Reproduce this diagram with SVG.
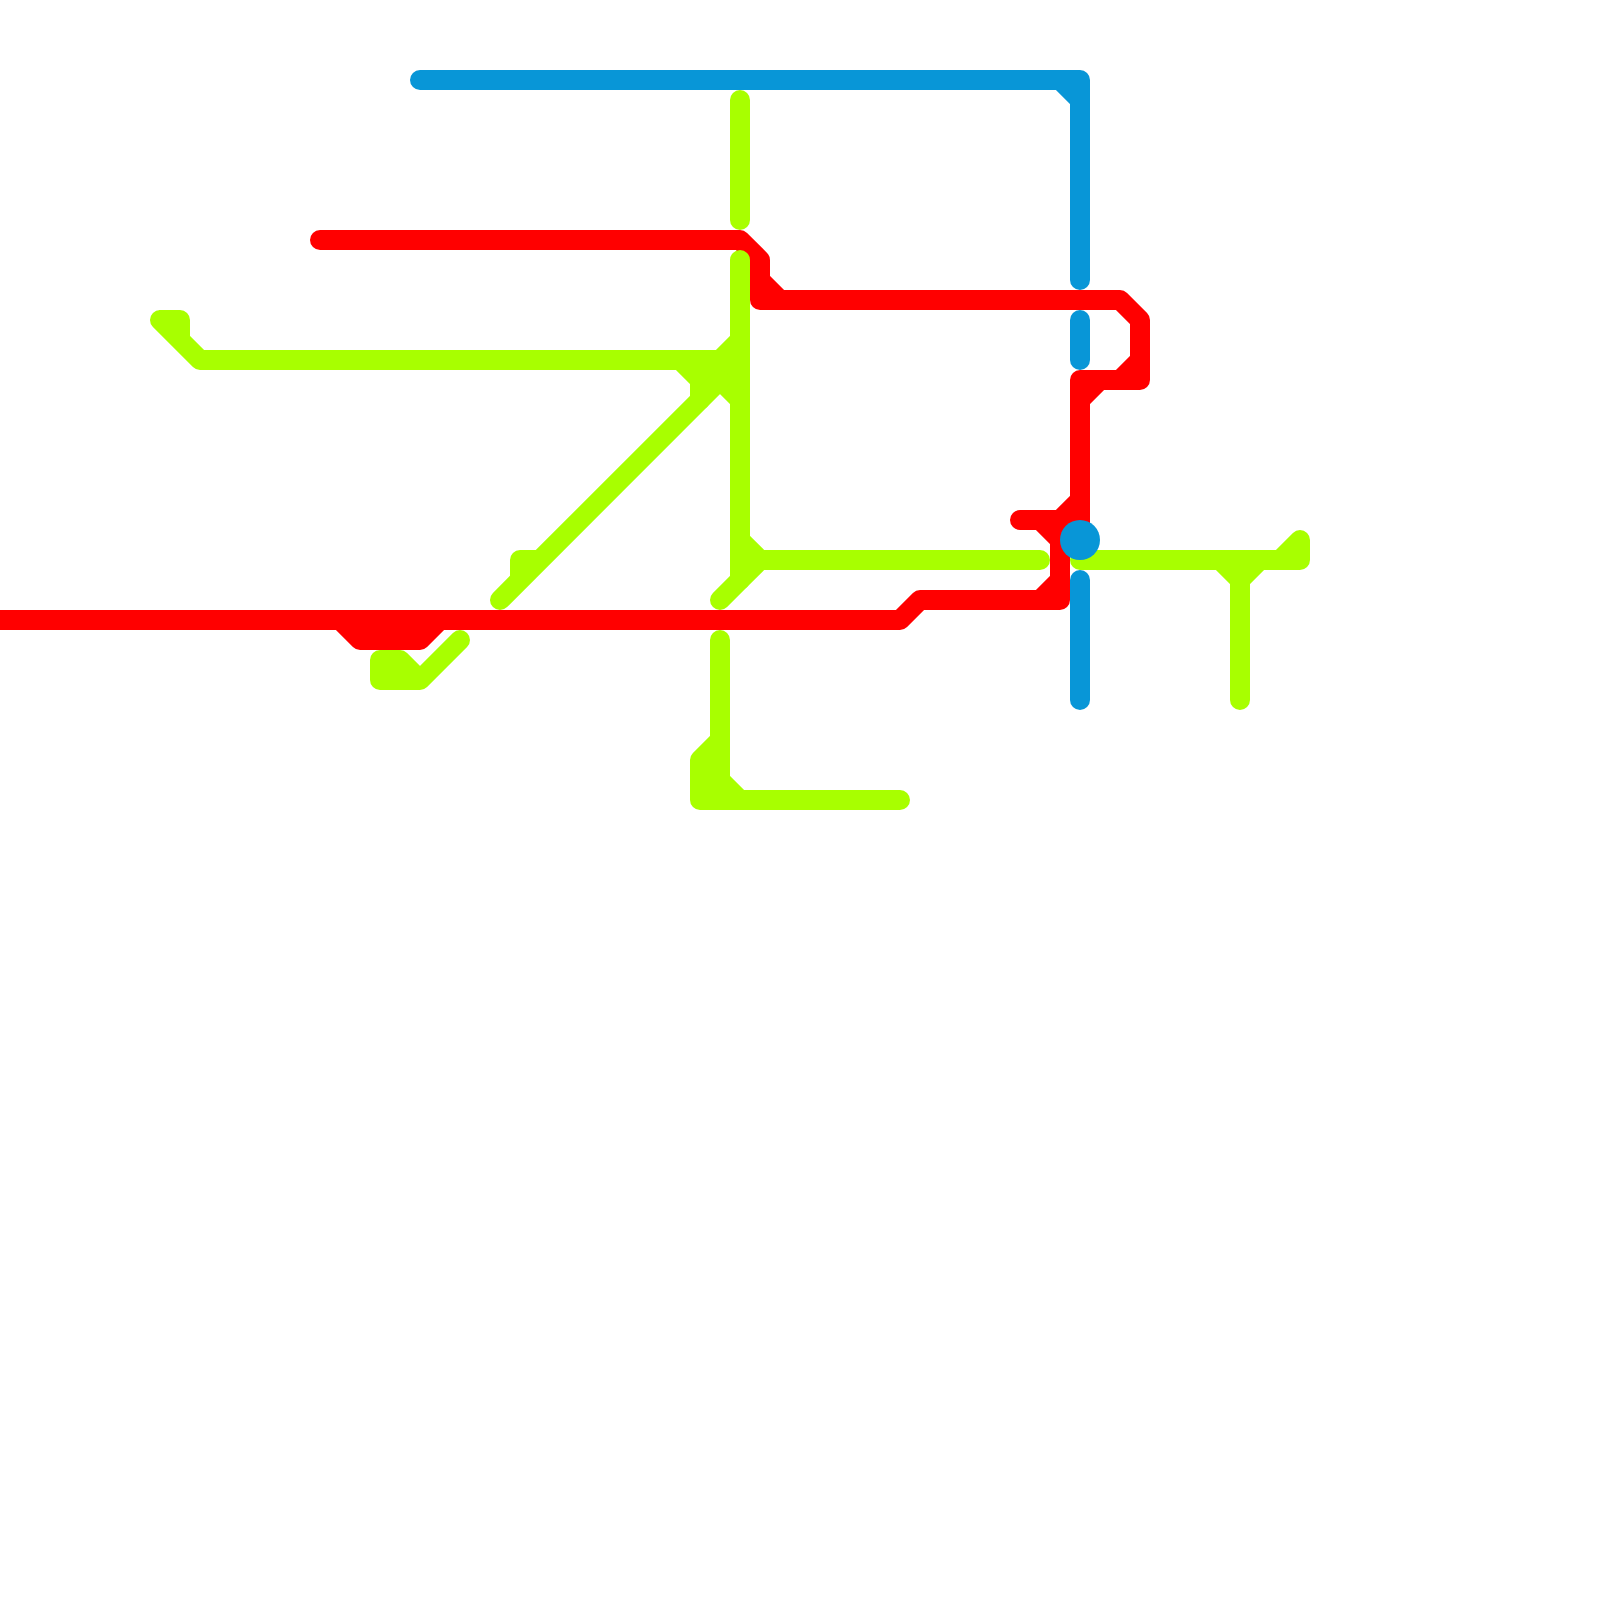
<svg xmlns="http://www.w3.org/2000/svg" width="1600" height="1600" viewBox="0 0 1600 1600">
<style>
.l{fill:none;stroke-width:20;stroke-linecap:round;stroke-linejoin:round}
.r{stroke:#ff0000}
.g{stroke:#a8ff00}
.b{stroke:#0896d7}
</style>
<rect width="1600" height="1600" fill="#ffffff"/>
<g id="connectors">
<g id="line-red" class="l r">
<path d="M320 240H740L760 260V300H1120L1140 320V380H1080V540"/>
<path d="M760 280L780 300M1120 380L1140 360M1080 400L1100 380M1060 520L1080 500"/>
<path d="M1020 520H1060V600H920L900 620H-20"/>
<path d="M1040 520L1060 540M1040 600L1060 580"/>
<path d="M340 620L360 640H420L440 620M360 630H420"/>
</g>
<g id="line-green" class="l g">
<path d="M740 100V220"/>
<path d="M160 320H180V340L200 360H720M160 320L200 360"/>
<path d="M740 260V580L720 600"/>
<path d="M740 340L700 380M680 360L700 380M700 360L740 400M700 360V400M720 360V380"/>
<path d="M500 600L720 380M520 580V560H540"/>
<path d="M740 540L760 560H1040M740 580L760 560"/>
<path d="M720 640V780L740 800M720 740L700 760V800H900M710 760V800"/>
<path d="M460 640L420 680H380V660H400L420 680M390 670H410"/>
<path d="M1080 560H1300V540L1280 560"/>
<path d="M1220 560L1240 580V700M1260 560L1240 580"/>
</g>
<g id="line-blue" class="l b">
<path d="M420 80H1080V280M1060 80L1080 100"/>
<path d="M1080 320V360"/>
<path d="M1080 580V700"/>
</g>
</g>
<g id="station">
<circle cx="1080" cy="540" r="20" fill="#0896d7"/>
</g>
</svg>
